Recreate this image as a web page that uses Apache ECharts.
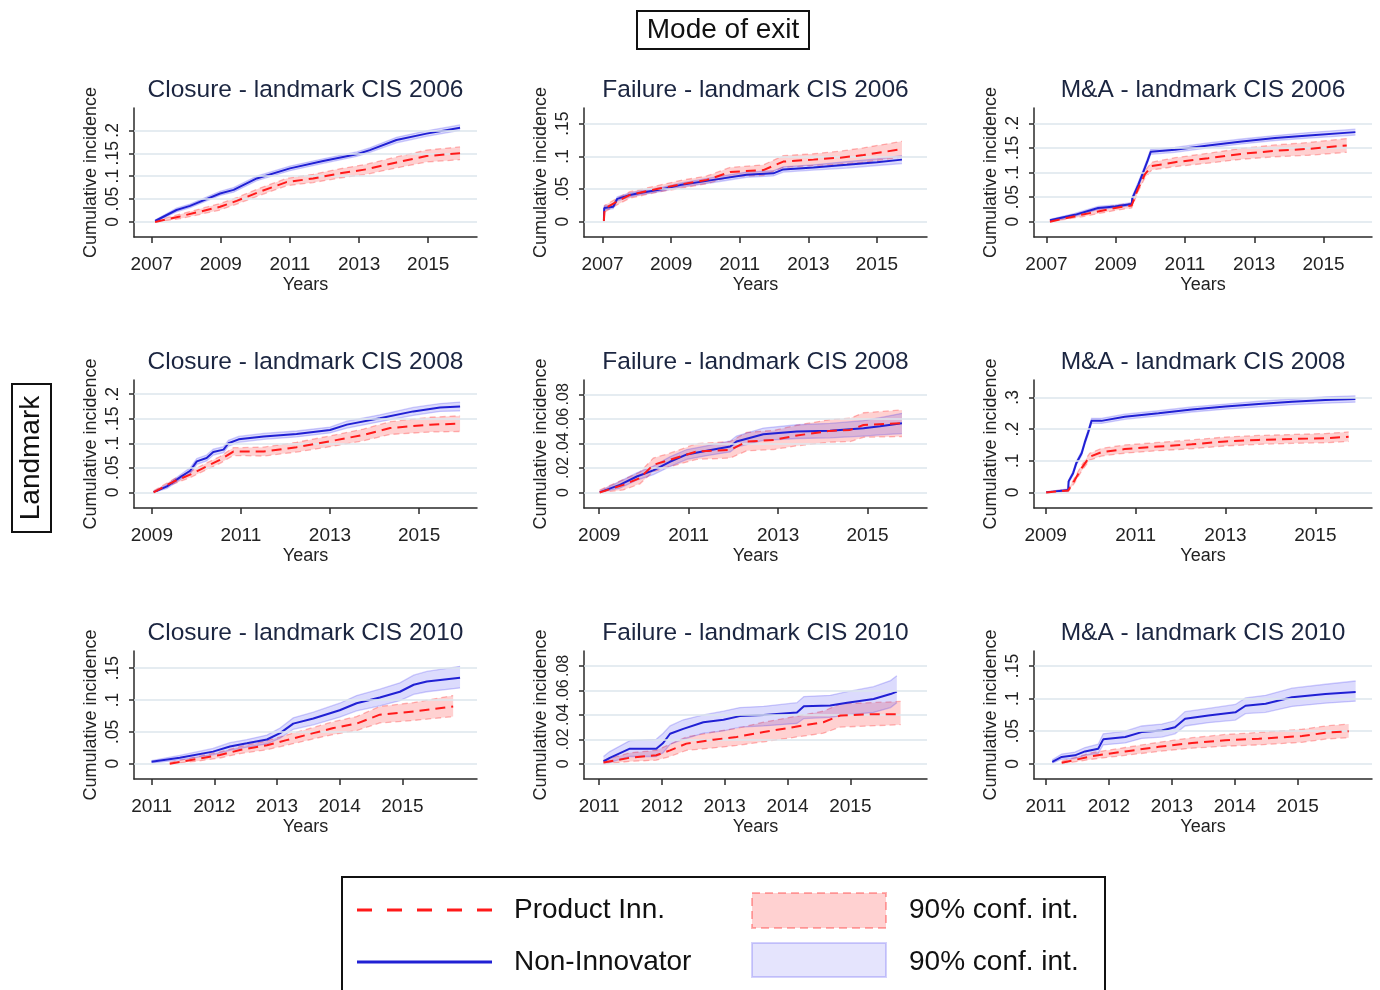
<!DOCTYPE html>
<html>
<head>
<meta charset="utf-8">
<script src="https://cdn.jsdelivr.net/npm/echarts@6/dist/echarts.min.js"></script>
<style>
  html, body { margin: 0; padding: 0; background: #fff; }
  #chart { width: 1380px; height: 990px; }
</style>
</head>
<body>
<div id="chart"></div>
<script>
// each row: [year, cumulative incidence, lower 90%, upper 90%]
// Non = Non-Innovator (blue), Inn = Product Inn. (red)
const closure06Non = [
  [2007.10, .002, .000, .004], [2007.72, .026, .022, .030], [2008.11, .035, .031, .039],
  [2008.98, .062, .058, .067], [2009.37, .070, .065, .075], [2010.04, .095, .090, .100],
  [2011.00, .117, .112, .122], [2011.96, .133, .128, .138], [2012.93, .148, .143, .153],
  [2013.31, .157, .152, .162], [2014.08, .179, .173, .185], [2014.95, .193, .187, .199],
  [2015.92, .206, .200, .212]
]
const closure06Inn = [
  [2007.10, .000, .000, .002], [2007.82, .012, .007, .017], [2008.98, .033, .026, .040],
  [2009.46, .046, .039, .053], [2010.13, .066, .058, .074], [2010.90, .087, .079, .095],
  [2011.67, .095, .086, .104], [2012.44, .106, .096, .116], [2013.21, .115, .104, .126],
  [2014.08, .130, .118, .142], [2014.95, .144, .131, .157], [2015.92, .150, .136, .164]
]
const failure06Non = [
  [2007.04, .002, .000, .004], [2007.05, .021, .018, .024], [2007.31, .023, .020, .026],
  [2007.43, .035, .032, .038], [2007.80, .041, .038, .044], [2008.09, .044, .041, .047],
  [2008.77, .050, .047, .053], [2009.26, .056, .053, .059], [2010.23, .064, .060, .068],
  [2011.20, .072, .068, .076], [2011.98, .074, .070, .078], [2012.27, .080, .076, .084],
  [2013.15, .083, .079, .087], [2014.12, .087, .082, .092], [2015.00, .091, .086, .096],
  [2015.73, .095, .089, .101]
]
const failure06Inn = [
  [2007.04, .001, .000, .004], [2007.06, .020, .015, .025], [2007.43, .031, .026, .036],
  [2007.80, .041, .036, .046], [2008.58, .050, .045, .055], [2009.26, .057, .051, .063],
  [2010.04, .064, .058, .070], [2010.72, .076, .069, .083], [2011.69, .079, .071, .087],
  [2012.27, .092, .083, .101], [2013.15, .095, .086, .104], [2013.93, .098, .088, .108],
  [2014.61, .102, .091, .113], [2015.73, .111, .099, .123]
]
const ma06Non = [
  [2007.10, .003, .001, .005], [2007.82, .014, .011, .017], [2008.49, .028, .025, .031],
  [2008.98, .031, .028, .034], [2009.46, .036, .033, .039], [2009.48, .048, .044, .052],
  [2009.65, .075, .070, .080], [2009.80, .102, .097, .107], [2009.92, .124, .119, .129],
  [2010.01, .142, .137, .147], [2010.71, .146, .141, .151], [2011.67, .155, .150, .160],
  [2012.64, .163, .158, .168], [2013.60, .170, .165, .175], [2014.57, .175, .170, .181],
  [2015.92, .182, .176, .188]
]
const ma06Inn = [
  [2007.10, .000, .000, .002], [2008.01, .014, .010, .018], [2008.98, .028, .023, .033],
  [2009.46, .033, .028, .038], [2009.65, .068, .062, .074], [2009.84, .096, .089, .103],
  [2010.04, .113, .105, .121], [2010.71, .121, .112, .130], [2011.67, .129, .119, .139],
  [2012.64, .138, .127, .149], [2013.60, .144, .132, .156], [2014.57, .148, .135, .161],
  [2015.67, .155, .141, .169]
]
const closure08Non = [
  [2009.04, .000, .000, .002], [2009.34, .012, .008, .016], [2009.64, .031, .026, .036],
  [2009.86, .044, .038, .050], [2010.01, .063, .057, .069], [2010.23, .070, .064, .076],
  [2010.38, .082, .076, .088], [2010.61, .087, .081, .093], [2010.72, .100, .094, .106],
  [2010.95, .108, .102, .114], [2011.51, .114, .108, .120], [2012.25, .119, .113, .125],
  [2013.00, .127, .121, .133], [2013.38, .138, .131, .145], [2014.12, .151, .144, .158],
  [2014.87, .165, .157, .173], [2015.47, .173, .165, .181], [2015.92, .175, .166, .184]
]
const closure08Inn = [
  [2009.04, .000, .000, .003], [2009.49, .022, .017, .027], [2009.86, .036, .030, .042],
  [2010.23, .053, .046, .060], [2010.53, .066, .059, .073], [2010.83, .083, .075, .091],
  [2011.51, .083, .074, .092], [2012.25, .092, .082, .102], [2013.00, .104, .093, .115],
  [2013.75, .117, .105, .129], [2014.35, .131, .118, .144], [2015.25, .138, .123, .153],
  [2015.92, .140, .124, .156]
]
const failure08Non = [
  [2009.01, .000, .000, .001], [2009.46, .0062, .0035, .009], [2009.84, .013, .010, .016],
  [2010.21, .018, .0145, .0215], [2010.58, .025, .021, .029], [2010.96, .031, .027, .035],
  [2011.40, .034, .030, .038], [2011.93, .0374, .033, .042], [2012.07, .0415, .037, .046],
  [2012.67, .0475, .0425, .0525], [2013.42, .0496, .044, .0552], [2014.16, .0504, .0445, .0563],
  [2014.91, .0523, .046, .0586], [2015.28, .054, .047, .061], [2015.77, .0564, .048, .0645]
]
const failure08Inn = [
  [2009.01, .000, .000, .002], [2009.54, .0062, .002, .0105], [2009.91, .0117, .007, .0165],
  [2010.21, .0225, .017, .028], [2010.58, .0266, .021, .032], [2011.18, .0334, .027, .0398],
  [2011.93, .0347, .028, .0415], [2012.30, .0415, .034, .049], [2012.90, .0428, .035, .0506],
  [2013.42, .0464, .038, .0548], [2014.16, .0502, .041, .0594], [2014.61, .051, .0415, .0605],
  [2014.91, .055, .045, .065], [2015.77, .0564, .0456, .0673]
]
const ma08Non = [
  [2009.01, .000, .000, .002], [2009.50, .008, .005, .011], [2009.51, .035, .030, .040],
  [2009.61, .061, .055, .067], [2009.68, .092, .086, .098], [2009.80, .124, .117, .131],
  [2009.87, .158, .151, .165], [2009.95, .192, .184, .200], [2010.02, .226, .218, .234],
  [2010.24, .226, .218, .234], [2010.76, .239, .231, .247], [2011.51, .250, .242, .258],
  [2012.25, .262, .254, .270], [2013.00, .271, .263, .279], [2013.74, .279, .270, .288],
  [2014.48, .286, .277, .295], [2015.22, .292, .282, .302], [2015.89, .295, .285, .305]
]
const ma08Inn = [
  [2009.01, .000, .000, .002], [2009.50, .006, .002, .010], [2009.65, .040, .032, .048],
  [2009.80, .077, .068, .086], [2009.98, .113, .102, .124], [2010.24, .127, .115, .139],
  [2010.76, .137, .124, .150], [2011.51, .145, .132, .158], [2012.25, .152, .138, .166],
  [2013.00, .161, .147, .175], [2013.74, .166, .152, .180], [2014.48, .169, .155, .183],
  [2015.22, .171, .157, .186], [2015.74, .176, .161, .191]
]
const closure10Non = [
  [2011.00, .003, .001, .005], [2011.45, .0094, .006, .013], [2011.98, .019, .014, .024],
  [2012.25, .027, .021, .033], [2012.52, .032, .026, .038], [2012.84, .038, .031, .045],
  [2013.05, .048, .040, .056], [2013.26, .063, .054, .072], [2013.58, .071, .061, .081],
  [2014.00, .084, .073, .095], [2014.27, .095, .083, .107], [2014.64, .104, .091, .117],
  [2014.96, .113, .099, .127], [2015.18, .124, .109, .139], [2015.39, .129, .113, .145],
  [2015.92, .135, .119, .153]
]
const closure10Inn = [
  [2011.29, .000, .000, .002], [2011.72, .0073, .004, .011], [2012.09, .0136, .009, .0185],
  [2012.41, .0215, .016, .027], [2012.84, .029, .022, .036], [2013.15, .037, .029, .045],
  [2013.58, .048, .039, .057], [2013.90, .056, .046, .066], [2014.27, .063, .052, .074],
  [2014.64, .077, .064, .090], [2015.18, .082, .068, .096], [2015.81, .090, .074, .107]
]
const failure10Non = [
  [2011.07, .002, .000, .006], [2011.17, .0049, .001, .010], [2011.49, .0124, .006, .019],
  [2011.91, .0124, .006, .020], [2012.02, .017, .009, .025], [2012.13, .0246, .016, .031],
  [2012.34, .0286, .020, .036], [2012.66, .034, .025, .040], [2012.98, .036, .027, .043],
  [2013.24, .039, .030, .046], [2013.62, .040, .031, .047], [2014.15, .042, .033, .050],
  [2014.26, .047, .037, .055], [2014.68, .0476, .038, .056], [2014.95, .050, .040, .059],
  [2015.37, .053, .042, .063], [2015.64, .057, .046, .068], [2015.74, .059, .050, .072]
]
const failure10Inn = [
  [2011.07, .001, .000, .003], [2011.49, .005, .002, .009], [2011.91, .007, .003, .011],
  [2012.13, .011, .006, .016], [2012.39, .0165, .011, .022], [2012.82, .0197, .013, .026],
  [2013.19, .022, .015, .029], [2013.62, .026, .018, .034], [2014.15, .0305, .022, .039],
  [2014.57, .034, .025, .043], [2014.84, .0395, .030, .049], [2015.32, .0405, .031, .050],
  [2015.80, .0405, .032, .051]
]
const ma10Non = [
  [2011.10, .003, .001, .006], [2011.25, .0106, .007, .015], [2011.46, .013, .008, .018],
  [2011.62, .019, .013, .025], [2011.83, .023, .016, .030], [2011.91, .0375, .029, .046],
  [2012.26, .041, .032, .050], [2012.52, .0486, .039, .058], [2012.84, .051, .041, .061],
  [2013.05, .056, .046, .066], [2013.21, .069, .058, .080], [2013.58, .074, .063, .085],
  [2014.01, .079, .067, .091], [2014.17, .089, .077, .101], [2014.49, .092, .079, .105],
  [2014.91, .102, .088, .116], [2015.44, .107, .093, .122], [2015.92, .110, .096, .127]
]
const ma10Inn = [
  [2011.25, .0015, .000, .004], [2011.73, .0117, .007, .017], [2012.26, .019, .013, .025],
  [2012.79, .026, .019, .033], [2013.32, .032, .024, .040], [2013.85, .036, .027, .045],
  [2014.38, .0385, .029, .048], [2015.07, .0426, .033, .053], [2015.44, .0476, .038, .058],
  [2015.81, .050, .040, .061]
]

const xTicks06 = [2007, 2009, 2011, 2013, 2015]
const xTicks08 = [2009, 2011, 2013, 2015]
const xTicks10 = [2011, 2012, 2013, 2014, 2015]
const yTicks20 = [0, 0.05, 0.1, 0.15, 0.2]
const yTicks15 = [0, 0.05, 0.1, 0.15]
const yTicks08 = [0, 0.02, 0.04, 0.06, 0.08]
const yTicks30 = [0, 0.1, 0.2, 0.3]

const legendNames = ['Product Inn.', 'Non-Innovator', '90% conf. int.']

const panels = [
  { title: 'Closure - landmark CIS 2006', non: closure06Non, inn: closure06Inn, xt: xTicks06, yt: yTicks20, x: [2006.49, 2016.41], y: [-0.033, 0.249] },
  { title: 'Failure - landmark CIS 2006', non: failure06Non, inn: failure06Inn, xt: xTicks06, yt: yTicks15, x: [2006.46, 2016.46], y: [-0.0234, 0.174] },
  { title: 'M&A - landmark CIS 2006', non: ma06Non, inn: ma06Inn, xt: xTicks06, yt: yTicks20, x: [2006.64, 2016.40], y: [-0.031, 0.231] },
  { title: 'Closure - landmark CIS 2008', non: closure08Non, inn: closure08Inn, xt: xTicks08, yt: yTicks20, x: [2008.60, 2016.30], y: [-0.032, 0.229] },
  { title: 'Failure - landmark CIS 2008', non: failure08Non, inn: failure08Inn, xt: xTicks08, yt: yTicks08, x: [2008.66, 2016.33], y: [-0.0127, 0.0917] },
  { title: 'M&A - landmark CIS 2008', non: ma08Non, inn: ma08Inn, xt: xTicks08, yt: yTicks30, x: [2008.74, 2016.26], y: [-0.049, 0.355] },
  { title: 'Closure - landmark CIS 2010', non: closure10Non, inn: closure10Inn, xt: xTicks10, yt: yTicks15, x: [2010.72, 2016.19], y: [-0.024, 0.177] },
  { title: 'Failure - landmark CIS 2010', non: failure10Non, inn: failure10Inn, xt: xTicks10, yt: yTicks08, x: [2010.76, 2016.22], y: [-0.0124, 0.0922] },
  { title: 'M&A - landmark CIS 2010', non: ma10Non, inn: ma10Inn, xt: xTicks10, yt: yTicks15, x: [2010.81, 2016.18], y: [-0.0233, 0.173] }
]

const colLeft = [134, 584, 1034]
const colWidth = [343, 343, 338]
const rowTop = [108, 380, 651]
const rowHeight = [129, 128, 128]

const FONT = '"Liberation Sans", Arial, sans-serif'
const RED = '#ff1a1a'
const BLUE = '#2020d4'
const RED_FILL = 'rgba(255, 0, 0, 0.18)'
const RED_EDGE = 'rgba(255, 0, 0, 0.28)'
const BLUE_FILL = 'rgba(40, 30, 240, 0.16)'
const BLUE_EDGE = 'rgba(40, 30, 240, 0.22)'
const AXIS = { color: '#2a2a2a', width: 1.5 }

function yLabel(v) {
  return v === 0 ? '0' : String(v).replace(/^0/, '')
}

function band(rows, idx, fill, edge, dashed) {
  return {
    type: 'custom',
    xAxisIndex: idx,
    yAxisIndex: idx,
    silent: true,
    clip: true,
    z: 2,
    data: rows.map(r => [r[0], r[2], r[3]]),
    encode: { x: 0, y: [1, 2] },
    renderItem: function (params, api) {
      if (params.dataIndex !== 0) return null
      const upper = rows.map(r => api.coord([r[0], r[3]]))
      const lower = rows.map(r => api.coord([r[0], r[2]]))
      const edgeStyle = { stroke: edge, lineWidth: 1.3, fill: null, lineDash: dashed ? [6, 4] : null }
      return {
        type: 'group',
        children: [
          { type: 'polygon', shape: { points: upper.concat(lower.slice().reverse()) }, style: { fill: fill } },
          { type: 'polyline', shape: { points: upper }, style: edgeStyle },
          { type: 'polyline', shape: { points: lower }, style: edgeStyle }
        ]
      }
    }
  }
}

const grid = [], xAxis = [], yAxis = [], title = [], series = []

panels.forEach(function (p, i) {
  const r = Math.floor(i / 3), c = i % 3
  // the .02-step axes are crowded; a slightly smaller font keeps every label
  const yFont = p.yt === yTicks08 ? 16 : 17.5
  grid.push({ left: colLeft[c], top: rowTop[r], width: colWidth[c], height: rowHeight[r] })
  title.push({
    text: p.title,
    left: colLeft[c] + colWidth[c] / 2,
    top: rowTop[r] - 30,
    textAlign: 'center',
    padding: 0,
    textStyle: { fontFamily: FONT, fontSize: 24.5, fontWeight: 'normal', color: '#1b2540' }
  })
  xAxis.push({
    gridIndex: i,
    type: 'value',
    min: p.x[0],
    max: p.x[1],
    name: 'Years',
    nameLocation: 'middle',
    nameGap: 39,
    nameTextStyle: { fontFamily: FONT, fontSize: 18, color: '#222' },
    axisLine: { show: true, onZero: false, lineStyle: AXIS },
    axisTick: { show: true, length: 6, customValues: p.xt, lineStyle: AXIS },
    axisLabel: { customValues: p.xt, formatter: v => String(v), fontFamily: FONT, fontSize: 19, color: '#222', margin: 18 },
    splitLine: { show: false }
  })
  yAxis.push({
    gridIndex: i,
    type: 'value',
    min: p.y[0],
    max: p.y[1],
    name: 'Cumulative incidence',
    nameLocation: 'middle',
    nameGap: 34,
    nameTextStyle: { fontFamily: FONT, fontSize: 18, color: '#222' },
    axisLine: { show: true, onZero: false, lineStyle: AXIS },
    axisTick: { show: true, length: 5, customValues: p.yt, lineStyle: AXIS },
    axisLabel: {
      customValues: p.yt, rotate: 90, formatter: yLabel, hideOverlap: false,
      showMinLabel: true, showMaxLabel: true,
      fontFamily: FONT, fontSize: yFont, color: '#222', margin: 12
    },
    splitLine: { show: false }
  })
  // horizontal grid lines at the y ticks
  series.push({
    type: 'line',
    xAxisIndex: i,
    yAxisIndex: i,
    data: [[p.x[0], 0]],
    symbol: 'none',
    lineStyle: { opacity: 0 },
    silent: true,
    z: 1,
    markLine: {
      silent: true,
      symbol: ['none', 'none'],
      label: { show: false },
      lineStyle: { color: '#dce6ec', width: 1.5, type: 'solid' },
      data: p.yt.map(v => ({ yAxis: v }))
    }
  })
  series.push(band(p.inn, i, RED_FILL, RED_EDGE, true))
  series.push(band(p.non, i, BLUE_FILL, BLUE_EDGE, false))
  series.push({
    name: legendNames[1],
    type: 'line',
    xAxisIndex: i,
    yAxisIndex: i,
    data: p.non.map(d => [d[0], d[1]]),
    showSymbol: false,
    symbol: 'none',
    lineStyle: { color: BLUE, width: 2 },
    z: 4
  })
  series.push({
    name: legendNames[0],
    type: 'line',
    xAxisIndex: i,
    yAxisIndex: i,
    data: p.inn.map(d => [d[0], d[1]]),
    showSymbol: false,
    symbol: 'none',
    lineStyle: { color: RED, width: 2, type: [10, 6] },
    z: 5
  })
})

function label(text, x, y) {
  return {
    type: 'text', x: x, y: y,
    style: { text: text, font: '28px ' + FONT, fill: '#111', textAlign: 'left', textVerticalAlign: 'middle', align: 'left', verticalAlign: 'middle' }
  }
}

const graphic = [
  // top header
  { type: 'rect', shape: { x: 637, y: 11, width: 172, height: 38 }, style: { fill: '#fff', stroke: '#111', lineWidth: 2 } },
  { type: 'text', x: 723, y: 30, style: { text: 'Mode of exit', font: '28px ' + FONT, fill: '#111', textAlign: 'center', textVerticalAlign: 'middle', align: 'center', verticalAlign: 'middle' } },
  // left row label
  { type: 'rect', shape: { x: 12, y: 384, width: 39, height: 148 }, style: { fill: '#fff', stroke: '#111', lineWidth: 2 } },
  { type: 'text', x: 31.5, y: 458, rotation: Math.PI / 2, style: { text: 'Landmark', font: '28px ' + FONT, fill: '#111', textAlign: 'center', textVerticalAlign: 'middle', align: 'center', verticalAlign: 'middle' } },
  // legend box
  { type: 'rect', shape: { x: 342, y: 877, width: 763, height: 125 }, style: { fill: '#fff', stroke: '#111', lineWidth: 2 } },
  { type: 'line', shape: { x1: 357, y1: 910, x2: 492, y2: 910 }, style: { stroke: RED, lineWidth: 3, lineDash: [15, 15] } },
  { type: 'line', shape: { x1: 357, y1: 962, x2: 492, y2: 962 }, style: { stroke: BLUE, lineWidth: 3 } },
  label(legendNames[0], 514, 910),
  label(legendNames[1], 514, 962),
  { type: 'rect', shape: { x: 752, y: 893, width: 134, height: 35 }, style: { fill: RED_FILL, stroke: 'rgba(255, 0, 0, 0.3)', lineWidth: 2, lineDash: [8, 5] } },
  { type: 'rect', shape: { x: 752, y: 943, width: 134, height: 34 }, style: { fill: 'rgba(40, 30, 240, 0.12)', stroke: 'rgba(40, 30, 240, 0.2)', lineWidth: 2 } },
  label(legendNames[2], 909, 910),
  label(legendNames[2], 909, 962)
]

const chart = echarts.init(document.getElementById('chart'), null, { renderer: 'canvas' })
chart.setOption({
  animation: false,
  backgroundColor: '#fff',
  textStyle: { fontFamily: FONT },
  title: title,
  grid: grid,
  xAxis: xAxis,
  yAxis: yAxis,
  series: series,
  graphic: graphic
})
</script>
</body>
</html>
